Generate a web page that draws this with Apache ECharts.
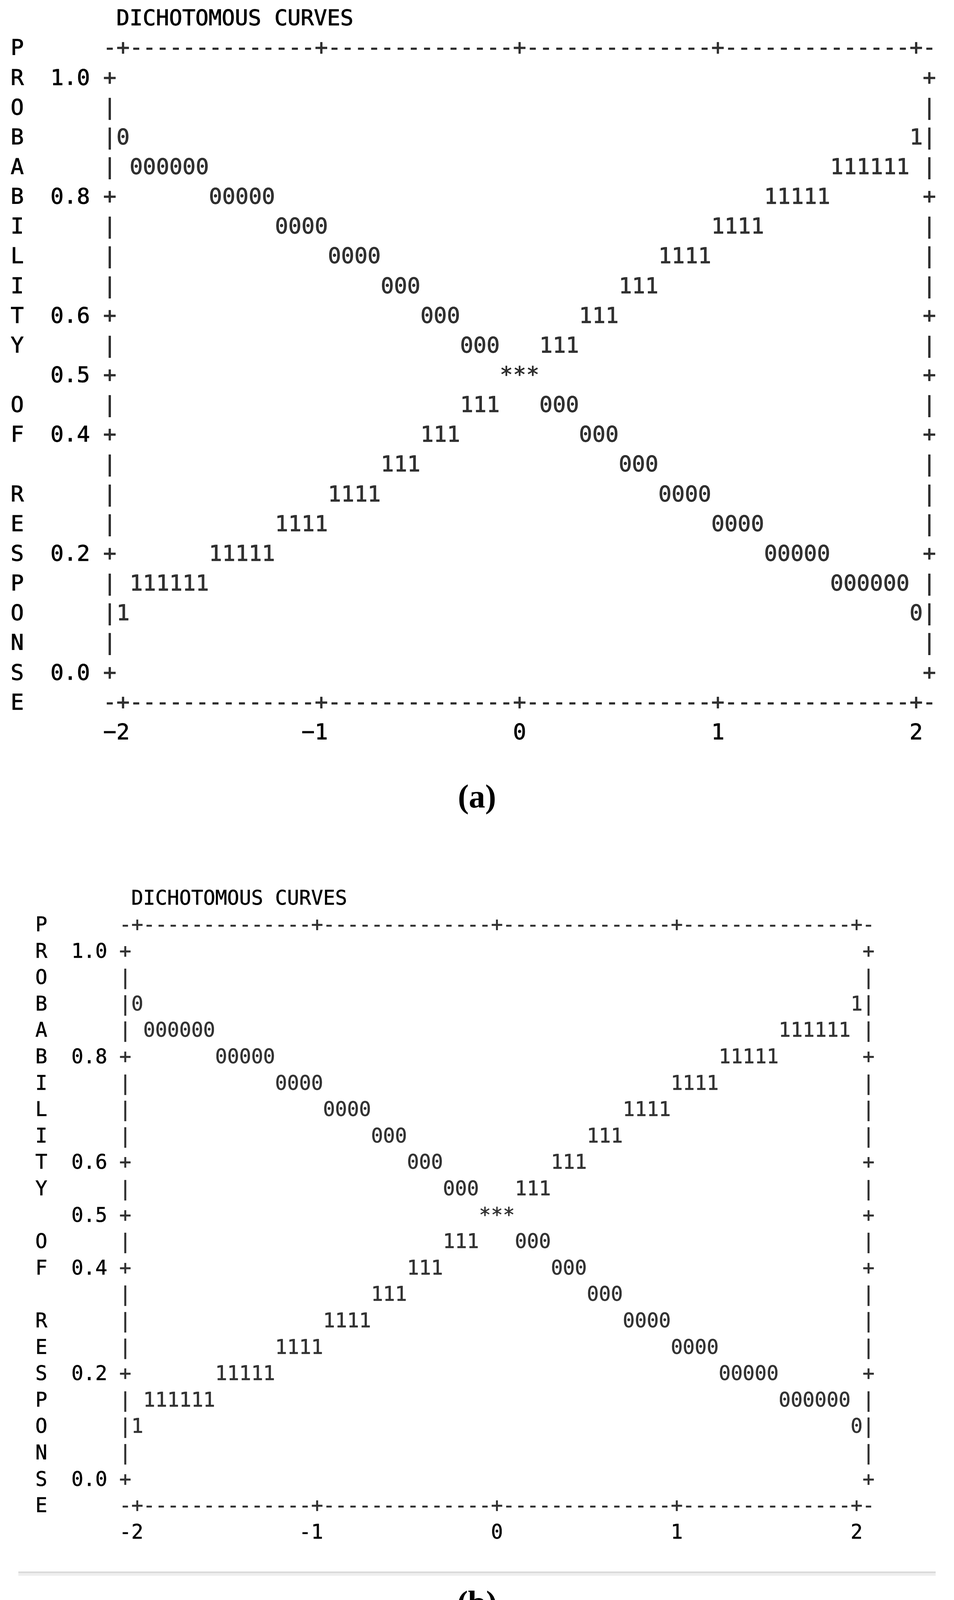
<!DOCTYPE html>
<html>
<head>
<meta charset="utf-8">
<script src="https://cdn.jsdelivr.net/npm/echarts@6/dist/echarts.min.js"></script>
<style>
html,body{margin:0;padding:0;background:#fff;}
#chart{width:2443px;height:4167px;}
</style>
</head>
<body>
<div id="chart"></div>
<script>
// ---- data (both panels show the same curves) ----
const xValues = [-2,-1.9333,-1.8667,-1.8,-1.7333,-1.6667,-1.6,-1.5333,-1.4667,-1.4,
  -1.3333,-1.2667,-1.2,-1.1333,-1.0667,-1,-0.9333,-0.8667,-0.8,-0.7333,
  -0.6667,-0.6,-0.5333,-0.4667,-0.4,-0.3333,-0.2667,-0.2,-0.1333,-0.0667,
  0,0.0667,0.1333,0.2,0.2667,0.3333,0.4,0.4667,0.5333,0.6,
  0.6667,0.7333,0.8,0.8667,0.9333,1,1.0667,1.1333,1.2,1.2667,
  1.3333,1.4,1.4667,1.5333,1.6,1.6667,1.7333,1.8,1.8667,1.9333,2];
const curve0 = [0.90,
  0.85,0.85,0.85,0.85,0.85,0.85,
  0.80,0.80,0.80,0.80,0.80,
  0.75,0.75,0.75,0.75,
  0.70,0.70,0.70,0.70,
  0.65,0.65,0.65,
  0.60,0.60,0.60,
  0.55,0.55,0.55,
  0.50,0.50,0.50,
  0.45,0.45,0.45,
  0.40,0.40,0.40,
  0.35,0.35,0.35,
  0.30,0.30,0.30,0.30,
  0.25,0.25,0.25,0.25,
  0.20,0.20,0.20,0.20,0.20,
  0.15,0.15,0.15,0.15,0.15,0.15,
  0.10];
const curve1 = [0.10,
  0.15,0.15,0.15,0.15,0.15,0.15,
  0.20,0.20,0.20,0.20,0.20,
  0.25,0.25,0.25,0.25,
  0.30,0.30,0.30,0.30,
  0.35,0.35,0.35,
  0.40,0.40,0.40,
  0.45,0.45,0.45,
  0.50,0.50,0.50,
  0.55,0.55,0.55,
  0.60,0.60,0.60,
  0.65,0.65,0.65,
  0.70,0.70,0.70,0.70,
  0.75,0.75,0.75,0.75,
  0.80,0.80,0.80,0.80,0.80,
  0.85,0.85,0.85,0.85,0.85,0.85,
  0.90];
const xTicks = [-2,-1,0,1,2];
const yTicks = [1.0,0.8,0.6,0.5,0.4,0.2,0.0];
const yRows = [1.00,0.95,0.90,0.85,0.80,0.75,0.70,0.65,0.60,0.55,0.50,
  0.45,0.40,0.35,0.30,0.25,0.20,0.15,0.10,0.05,0.00];
const titleText = 'DICHOTOMOUS CURVES';
const yAxisTitle = 'PROBABILITY OF RESPONSE';
const panelTags = ['a','b'];

// ---- layout (pixels) ----
const layouts = [
  {col0: 315, cw: 33.85, row1: 197, rh: 76.15, font: 56, bw: 1.1, minus: '\u2212', tagCenter: 2038},
  {col0: 351.5, cw: 30.7, row1: 2434, rh: 67.6, font: 51, bw: 0.7, minus: '-', tagCenter: 4102}
];
const MONO = "'DejaVu Sans Mono','Liberation Mono',monospace";
const SERIF = "'Liberation Serif','DejaVu Serif',serif";

const nCol = xValues.length - 1;
const step = (xValues[nCol] - xValues[0]) / nCol;
const xLo = xValues[0] - step, xHi = xValues[nCol] + step;
const yStep = yRows[0] - yRows[1];
const yLo = yRows[yRows.length - 1] - yStep, yHi = yRows[0] + yStep;
const near = (a, b) => Math.abs(a - b) < 1e-6;

// frame characters (printer-plot border)
const frameData = [];
[xLo, ...xValues, xHi].forEach(x => {
  const c = xTicks.some(t => near(t, x)) ? '+' : '-';
  frameData.push([x, yHi, c]);
  frameData.push([x, yLo, c]);
});
yRows.forEach(y => {
  const c = yTicks.some(t => near(t, y)) ? '+' : '|';
  frameData.push([xLo, y, c]);
  frameData.push([xHi, y, c]);
});

// plot symbols: '0', '1', and '*' where both curves share a cell
const pts0 = [], pts1 = [], ptsBoth = [];
xValues.forEach((x, i) => {
  if (near(curve0[i], curve1[i])) {
    ptsBoth.push([x, curve0[i], '*']);
  } else {
    pts0.push([x, curve0[i], '0']);
    pts1.push([x, curve1[i], '1']);
  }
});

const grids = [], xAxes = [], yAxes = [], series = [], titles = [];
layouts.forEach((L, g) => {
  const txt = {fontFamily: MONO, fontSize: L.font, color: '#000', fontWeight: 'normal',
               textBorderColor: '#000', textBorderWidth: L.bw};
  grids.push({
    left: L.col0 - L.cw, top: L.row1 - L.rh,
    width: 62 * L.cw, height: 22 * L.rh,
    containLabel: false, outerBoundsMode: 'none'
  });
  xAxes.push({
    gridIndex: g, type: 'value', min: xLo, max: xHi,
    axisLine: {show: false}, axisTick: {show: false}, splitLine: {show: false},
    axisLabel: Object.assign({
      customValues: xTicks,
      formatter: v => v < 0 ? (L.minus + Math.abs(v) + '\u00a0') : String(v),
      margin: L.rh, align: 'center', verticalAlign: 'middle'
    }, txt)
  });
  yAxes.push({
    gridIndex: g, type: 'value', min: yLo, max: yHi,
    axisLine: {show: false}, axisTick: {show: false}, splitLine: {show: false},
    axisLabel: Object.assign({
      customValues: yTicks,
      formatter: v => v.toFixed(1),
      margin: 1.5 * L.cw, align: 'right', verticalAlign: 'middle'
    }, txt),
    name: yAxisTitle.split('').join('\n'),
    nameLocation: 'middle', nameRotate: 0, nameGap: 7 * L.cw,
    nameMoveOverlap: false,
    nameTextStyle: Object.assign({lineHeight: L.rh, align: 'center', verticalAlign: 'middle'}, txt)
  });
  const mk = (name, data) => ({
    name: name, type: 'scatter', xAxisIndex: g, yAxisIndex: g,
    data: data, symbol: 'rect', symbolSize: 1,
    itemStyle: {color: 'rgba(0,0,0,0)'},
    label: Object.assign({show: true, position: 'inside', formatter: p => p.value[2]}, txt),
    silent: true, clip: false, emphasis: {disabled: true}, animation: false
  });
  series.push(mk('frame', frameData));
  series.push(mk('0', pts0));
  series.push(mk('1', pts1));
  series.push(mk('*', ptsBoth));
  titles.push({
    text: titleText, left: L.col0 - L.cw / 2, top: L.row1 - 2.5 * L.rh, padding: 0,
    textStyle: Object.assign({lineHeight: L.rh}, txt)
  });
  titles.push({
    text: '{p|(}{b|' + panelTags[g] + '}{p|)}', left: 'center', top: L.tagCenter - 42, padding: 0,
    textStyle: {
      lineHeight: 84,
      rich: {
        p: {fontFamily: SERIF, fontSize: 84, lineHeight: 84, color: '#000'},
        b: {fontFamily: SERIF, fontSize: 84, fontWeight: 'bold', lineHeight: 84, color: '#000'}
      }
    }
  });
});

const chart = echarts.init(document.getElementById('chart'), null, {renderer: 'svg', width: 2443, height: 4167});
chart.setOption({
  backgroundColor: '#ffffff',
  animation: false,
  title: titles,
  grid: grids,
  xAxis: xAxes,
  yAxis: yAxes,
  series: series,
  graphic: [
    {type: 'rect', shape: {x: 47, y: 4023, width: 2349, height: 4}, style: {fill: '#d9d9d9'}, silent: true},
    {type: 'rect', shape: {x: 47, y: 4027, width: 2349, height: 7}, style: {fill: '#eeeeee'}, silent: true}
  ]
});
</script>
</body>
</html>
